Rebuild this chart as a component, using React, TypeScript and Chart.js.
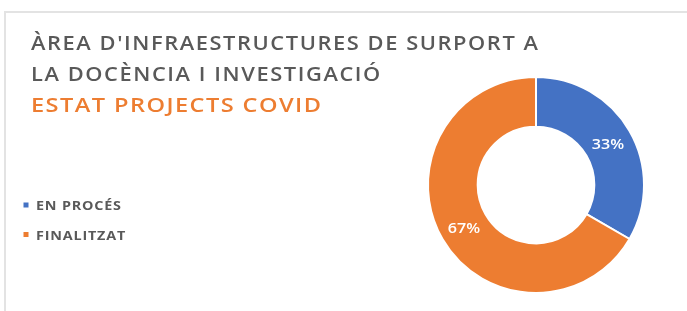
import React, { useEffect, useRef } from "react";
import { Chart, registerables } from "chart.js";

Chart.register(...registerables);

const titleLines = ["ÀREA D'INFRAESTRUCTURES DE SURPORT A", "LA DOCÈNCIA I INVESTIGACIÓ"];
const subtitleLine = "ESTAT PROJECTS COVID";
const categories = ["EN PROCÉS", "FINALITZAT"];
const values = [1, 2];
const colors = ["#4472C4", "#ED7D31"];

const FONT = "'Open Sans', 'DejaVu Sans', sans-serif";
const SX = 1.15;

function spacingFor(ctx: any, text: string, target: number) {
  ctx.letterSpacing = "0px";
  const w = ctx.measureText(text).width;
  return Math.max(0, (target / SX - w) / (text.length - 1));
}

function wideText(ctx: any, text: string, x: number, y: number) {
  ctx.save();
  ctx.translate(x, y);
  ctx.scale(SX, 1);
  ctx.fillText(text, 0, 0);
  ctx.restore();
}

const decorPlugin = {
  id: "decor",
  beforeDraw(chart: any) {
    const ctx = chart.ctx;
    ctx.save();
    ctx.fillStyle = "#ffffff";
    ctx.fillRect(0, 0, chart.width, chart.height);
    ctx.fillStyle = "#e3e3e3";
    ctx.fillRect(4, 11, chart.width - 4, 2);
    ctx.fillRect(4, 11, 2, chart.height - 11);
    ctx.restore();
  },
  afterDraw(chart: any) {
    const ctx = chart.ctx;
    ctx.save();
    // title
    ctx.textBaseline = "alphabetic";
    ctx.textAlign = "left";
    ctx.font = `600 19px ${FONT}`;
    const ts = spacingFor(ctx, titleLines[0], 507);
    ctx.letterSpacing = ts + "px";
    ctx.fillStyle = "#595959";
    wideText(ctx, titleLines[0], 31, 49.5);
    wideText(ctx, titleLines[1], 31, 80.5);
    ctx.font = `600 20.5px ${FONT}`;
    const ss = spacingFor(ctx, subtitleLine, 290);
    ctx.letterSpacing = ss + "px";
    ctx.fillStyle = "#ED7D31";
    wideText(ctx, subtitleLine, 31, 111.5);
    // legend
    ctx.font = `700 12.5px ${FONT}`;
    const ls = spacingFor(ctx, categories[0], 85);
    ctx.letterSpacing = ls + "px";
    const ys = [210, 239.5];
    categories.forEach((c, i) => {
      ctx.fillStyle = colors[i];
      ctx.fillRect(23.5, ys[i] - 7.5, 5, 5);
      ctx.fillStyle = "#595959";
      wideText(ctx, c, 36, ys[i]);
    });
    // data labels
    const meta = chart.getDatasetMeta(0);
    const total = values.reduce((a, b) => a + b, 0);
    ctx.font = `600 14px ${FONT}`;
    const ds = spacingFor(ctx, "33%", 31);
    ctx.letterSpacing = ds + "px";
    ctx.fillStyle = "#ffffff";
    ctx.textAlign = "center";
    ctx.textBaseline = "middle";
    meta.data.forEach((arc: any, i: number) => {
      const p = arc.tooltipPosition();
      const pct = Math.round((values[i] / total) * 100) + "%";
      wideText(ctx, pct, p.x + (ds * SX) / 2, p.y + 2);
    });
    ctx.restore();
  },
};

export default function App() {
  const ref = useRef<HTMLCanvasElement>(null);
  useEffect(() => {
    if (!ref.current) return;
    const chart = new Chart(ref.current, {
      type: "doughnut",
      data: {
        labels: categories,
        datasets: [
          {
            data: values,
            backgroundColor: colors,
            borderColor: "#ffffff",
            borderWidth: 2,
          },
        ],
      },
      options: {
        animation: false,
        responsive: false,
        cutout: "54%",
        layout: { padding: { left: 427, right: 42, top: 76, bottom: 17 } },
        plugins: {
          legend: { display: false },
          tooltip: { enabled: false },
          title: { display: false },
        },
      },
      plugins: [decorPlugin],
    });
    return () => chart.destroy();
  }, []);
  return (
    <div style={{ position: "fixed", left: 0, top: 0, width: 687, height: 311, background: "#fff" }}>
      <canvas ref={ref} width={687} height={311} style={{ width: 687, height: 311, display: "block" }} />
    </div>
  );
}
